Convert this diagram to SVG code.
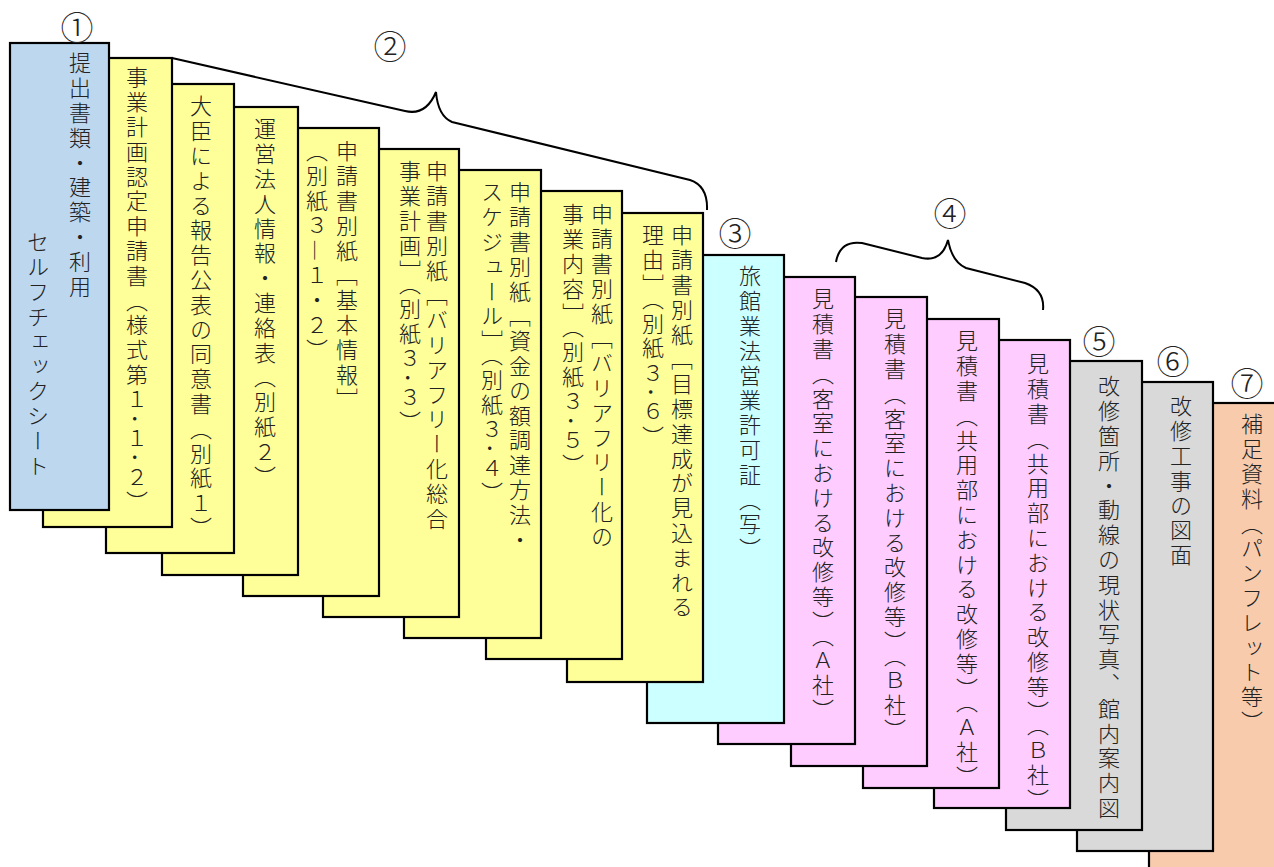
<svg xmlns="http://www.w3.org/2000/svg" width="1274" height="867" viewBox="0 0 1274 867">
<style>
.c{stroke:#000;stroke-width:2.2}
.blue{fill:#bdd7ee}.yel{fill:#ffff99}.cyan{fill:#ccffff}.pink{fill:#ffccff}.gray{fill:#d9d9d9}.org{fill:#f8cbad}
.t{font-family:"Noto Sans CJK JP","Noto Sans",sans-serif;font-size:22px;font-weight:300;writing-mode:vertical-rl;letter-spacing:2.8px;fill:#222}
.n{font-family:"Noto Sans CJK JP","Noto Sans",sans-serif;font-size:33px;font-weight:300;text-anchor:middle;dominant-baseline:central;fill:#222}
.br{fill:none;stroke:#000;stroke-width:2}
</style>
<rect width="1274" height="867" fill="#fff"/>
<g id="card17"><rect class="c org" x="1149" y="403" width="140" height="480"/><text class="t" x="1252" y="413">補足資料（パンフレット等）</text></g>
<g id="card16"><rect class="c gray" x="1077" y="382" width="136" height="469"/><text class="t" x="1181" y="395">改修工事の図面</text></g>
<g id="card15"><rect class="c gray" x="1006" y="361" width="136" height="469"/><text class="t" x="1109" y="375">改修箇所・動線の現状写真、館内案内図</text></g>
<g id="card14"><rect class="c pink" x="934" y="340" width="136" height="468"/><text class="t" x="1038" y="353">見積書（共用部における改修等）（Ｂ社）</text></g>
<g id="card13"><rect class="c pink" x="863" y="319" width="136" height="469"/><text class="t" x="967" y="330">見積書（共用部における改修等）（Ａ社）</text></g>
<g id="card12"><rect class="c pink" x="791" y="297" width="136" height="469"/><text class="t" x="895" y="308">見積書（客室における改修等）（Ｂ社）</text></g>
<g id="card11"><rect class="c pink" x="718" y="277" width="137" height="467"/><text class="t" x="823" y="288">見積書（客室における改修等）（Ａ社）</text></g>
<g id="card10"><rect class="c cyan" x="647" y="255" width="137" height="468"/><text class="t" x="750" y="265">旅館業法営業許可証（写）</text></g>
<g id="card9"><rect class="c yel" x="567" y="213" width="136" height="469"/><text class="t" x="682" y="224">申請書別紙［目標達成が見込まれる</text><text class="t" x="653" y="224">理由］（別紙３･６）</text></g>
<g id="card8"><rect class="c yel" x="486" y="191" width="136" height="468"/><text class="t" x="602" y="203">申請書別紙［バリアフリー化の</text><text class="t" x="573" y="203">事業内容］（別紙３･５）</text></g>
<g id="card7"><rect class="c yel" x="404" y="170" width="137" height="468"/><text class="t" x="520" y="181">申請書別紙［資金の額調達方法・</text><text class="t" x="492" y="181">スケジュール］（別紙３･４）</text></g>
<g id="card6"><rect class="c yel" x="323" y="149" width="136" height="468"/><text class="t" x="437" y="160">申請書別紙［バリアフリー化総合</text><text class="t" x="410" y="160">事業計画］（別紙３･３）</text></g>
<g id="card5"><rect class="c yel" x="243" y="128" width="136" height="468"/><text class="t" x="347" y="140">申請書別紙［基本情報］</text><text class="t" x="317" y="140">（別紙３―１・２）</text></g>
<g id="card4"><rect class="c yel" x="162" y="107" width="136" height="468"/><text class="t" x="265" y="118">運営法人情報・連絡表（別紙２）</text></g>
<g id="card3"><rect class="c yel" x="106" y="84" width="128" height="469"/><text class="t" x="201" y="95">大臣による報告公表の同意書（別紙１）</text></g>
<g id="card2"><rect class="c yel" x="43" y="58" width="129" height="469"/><text class="t" x="137" y="66">事業計画認定申請書（様式第１･１･２）</text></g>
<g id="card1"><rect class="c blue" x="10" y="43" width="99" height="467"/><text class="t" x="80" y="52">提出書類・建築・利用</text><text class="t" x="38" y="231">セルフチェックシート</text></g>
<g id="connectors">
<path class="br" d="M172,58 L405,111 Q426,116 436,92 Q438,116 452,122 L690,180 Q708,186 707,210"/>
<path class="br" d="M836,262 Q840,240 862,243 L922,258 Q942,262 948,240 Q952,262 966,268 L1025,283 Q1045,290 1043,310"/>
</g>
<g id="labels">
<text class="n" x="77" y="26">①</text>
<text class="n" x="390" y="45">②</text>
<text class="n" x="735" y="232">③</text>
<text class="n" x="950" y="212">④</text>
<text class="n" x="1099" y="340">⑤</text>
<text class="n" x="1173" y="360">⑥</text>
<text class="n" x="1247" y="382">⑦</text>
</g>
</svg>
